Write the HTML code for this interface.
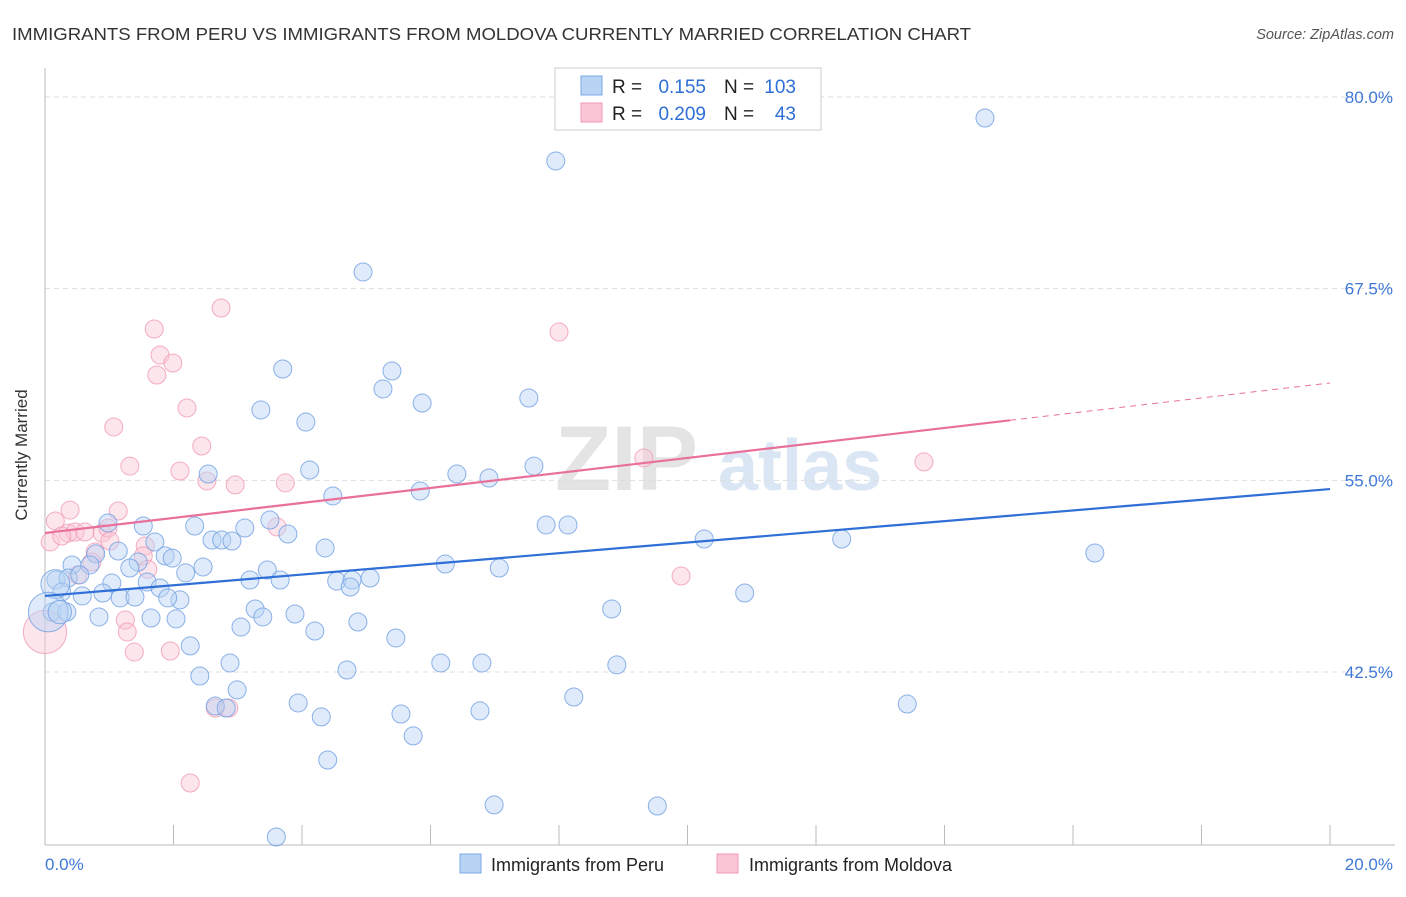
<!DOCTYPE html>
<html><head><meta charset="utf-8"><style>
body{margin:0;background:#fff;font-family:"Liberation Sans",sans-serif}
svg text{font-family:"Liberation Sans",sans-serif}
</style></head><body>
<svg id="chart" width="1406" height="892" viewBox="0 0 1406 892" xmlns="http://www.w3.org/2000/svg">
<text x="12" y="40" font-size="17.5" fill="#333" textLength="959" lengthAdjust="spacingAndGlyphs">IMMIGRANTS FROM PERU VS IMMIGRANTS FROM MOLDOVA CURRENTLY MARRIED CORRELATION CHART</text>
<text x="1394" y="39" font-size="14.5" fill="#555" font-style="italic" text-anchor="end">Source: ZipAtlas.com</text>
<g><text x="555" y="490" font-size="92" fill="#e4e4e4" font-family="Liberation Serif" font-weight="bold">ZIP</text><text x="718" y="490" font-size="72" fill="#dbe6f5" font-weight="bold">atlas</text></g>
<g id="grid"></g>
<g id="axes"></g>
<g id="pts"></g>
<g id="trends"></g>
<text x="27" y="455" font-size="17" fill="#333" text-anchor="middle" transform="rotate(-90 27 455)">Currently Married</text>
<g>
<rect x="555" y="68" width="266" height="62" fill="#fff" stroke="#ccc"/>
<rect x="581" y="76" width="21" height="19" fill="#b9d3f5" stroke="#7aa8e8"/>
<rect x="581" y="103" width="21" height="19" fill="#fac6d5" stroke="#f09ab4"/>
<text x="612" y="93" font-size="19" fill="#222">R =</text>
<text x="706" y="93" font-size="19" fill="#2f6fd6" text-anchor="end">0.155</text>
<text x="724" y="93" font-size="19" fill="#222">N =</text>
<text x="796" y="93" font-size="19" fill="#2f6fd6" text-anchor="end">103</text>
<text x="612" y="120" font-size="19" fill="#222">R =</text>
<text x="706" y="120" font-size="19" fill="#2f6fd6" text-anchor="end">0.209</text>
<text x="724" y="120" font-size="19" fill="#222">N =</text>
<text x="796" y="120" font-size="19" fill="#2f6fd6" text-anchor="end">43</text>
</g>
<g>
<rect x="460" y="854" width="21" height="19" fill="#b9d3f5" stroke="#7aa8e8"/>
<text x="491" y="871" font-size="18" fill="#222">Immigrants from Peru</text>
<rect x="717" y="854" width="21" height="19" fill="#fac6d5" stroke="#f09ab4"/>
<text x="749" y="871" font-size="18" fill="#222">Immigrants from Moldova</text>
</g>
</svg>
<script>
const yTicks=[80,67.5,55,42.5];
const yTickLabels=["80.0%","67.5%","55.0%","42.5%"];
const xTicks=[0,2,4,6,8,10,12,14,16,18,20];
const xEndLabels=["0.0%","20.0%"];
const peruX=[14.63,7.95,4.95,3.70,5.40,5.26,5.87,7.53,3.36,4.06,2.54,4.12,6.41,6.91,7.61,4.48,5.84,3.50,0.98,1.53,2.33,3.11,3.78,7.80,8.14,2.60,2.75,2.91,1.71,10.26,12.40,16.34,1.14,0.79,1.87,1.98,4.36,1.45,1.32,0.42,0.70,2.19,2.46,3.46,3.66,3.19,4.54,4.78,5.06,4.75,6.23,7.07,0.17,0.36,1.04,1.59,1.79,0.90,1.17,1.40,0.58,0.26,2.10,1.91,10.89,8.82,0.11,0.34,3.27,3.39,3.89,2.04,1.65,0.84,3.05,4.87,4.20,5.46,2.26,2.88,4.70,6.16,6.80,8.90,2.41,2.99,8.23,2.65,2.82,3.94,4.30,5.54,6.77,13.42,5.73,4.40,6.99,9.53,3.60,0.16,0.05,0.23,0.54];
const peruY=[78.63,75.83,68.59,62.26,62.13,60.96,60.04,60.37,59.59,58.8,55.41,55.67,55.41,55.15,55.93,53.98,54.3,52.41,52.22,52.02,52.02,51.89,51.5,52.09,52.09,51.11,51.11,51.04,50.98,51.17,51.17,50.26,50.39,50.2,50.07,49.93,50.59,49.67,49.28,49.48,49.48,48.96,49.35,49.15,48.5,48.5,48.43,48.5,48.63,48.04,49.54,49.28,48.5,48.63,48.3,48.37,47.98,47.65,47.33,47.39,47.46,47.72,47.2,47.33,47.65,46.61,46.41,46.41,46.61,46.09,46.28,45.96,46.02,46.09,45.43,45.76,45.17,44.72,44.2,43.09,42.63,43.09,43.09,42.96,42.24,41.33,40.87,40.28,40.15,40.48,39.57,39.76,39.96,40.41,38.33,36.76,33.83,33.76,31.74,48.24,46.41,46.41,48.83];
const peruSize=[1,1,1,1,1,1,1,1,1,1,1,1,1,1,1,1,1,1,1,1,1,1,1,1,1,1,1,1,1,1,1,1,1,1,1,1,1,1,1,1,1,1,1,1,1,1,1,1,1,1,1,1,1,1,1,1,1,1,1,1,1,1,1,1,1,1,1,1,1,1,1,1,1,1,1,1,1,1,1,1,1,1,1,1,1,1,1,1,1,1,1,1,1,1,1,1,1,1,1,1.6,2.2,1.3,1];
const moldX=[2.74,1.70,8.00,1.79,1.99,1.74,2.21,1.07,2.44,1.32,2.10,2.52,2.96,3.74,9.32,13.68,0.39,1.14,0.16,0.36,0.47,0.62,0.89,0.98,3.61,0.08,1.01,0.26,1.56,0.78,0.73,1.53,1.60,0.51,9.90,1.25,1.28,1.39,1.95,2.65,2.86,2.26,0.0];
const moldY=[66.24,64.87,64.67,63.17,62.65,61.87,59.72,58.48,57.24,55.93,55.61,54.96,54.7,54.83,56.46,56.2,53.06,53.0,52.35,51.56,51.63,51.63,51.56,51.89,51.96,50.98,51.04,51.37,50.72,50.33,49.67,50.07,49.2,48.83,48.76,45.89,45.11,43.8,43.87,40.15,40.15,35.26,45.11];
const moldSize=[1,1,1,1,1,1,1,1,1,1,1,1,1,1,1,1,1,1,1,1,1,1,1,1,1,1,1,1,1,1,1,1,1,1,1,1,1,1,1,1,1,1,2.4];
const peruTrend=[47.46,54.43];
const moldTrend=[51.57,61.35];
const moldSolidEnd=15.02;
const NS="http://www.w3.org/2000/svg";
const xs=v=>45+v/20*1285;
const ys=v=>97+(80-v)*15.333;
function mk(tag,attrs,parent){const e=document.createElementNS(NS,tag);for(const k in attrs)e.setAttribute(k,attrs[k]);parent.appendChild(e);return e;}
const grid=document.getElementById('grid'),axes=document.getElementById('axes'),pts=document.getElementById('pts'),tr=document.getElementById('trends');
yTicks.forEach((t,i)=>{
 const l=mk('line',{x1:45,x2:1395,y1:ys(t),y2:ys(t),stroke:'#ddd','stroke-dasharray':'5,4'},grid);
 
 
 const tx=mk('text',{x:1393,y:ys(t)+6,'font-size':17,fill:'#3f78d6','text-anchor':'end'},axes);
 tx.textContent=yTickLabels[i];
 
 
});
const ax=mk('line',{x1:45,x2:45,y1:68,y2:845,stroke:'#bbb'},axes);


const bx=mk('line',{x1:45,x2:1395,y1:845,y2:845,stroke:'#bbb'},axes);


xTicks.forEach(t=>{
 const l=mk('line',{x1:xs(t),x2:xs(t),y1:825,y2:845,stroke:'#bbb'},axes);
 
 
});
[[0,'start',45],[20,'end',1393]].forEach((d,i)=>{
 const tx=mk('text',{x:d[2],y:870,'font-size':17,fill:'#3f78d6','text-anchor':d[1]},axes);
 tx.textContent=xEndLabels[i];
 
 
});
function drawPts(X,Y,S,fill,stroke,name){
 X.forEach((x,i)=>{
  const c=mk('circle',{cx:xs(x),cy:ys(Y[i]),r:9*S[i],fill:fill,'fill-opacity':0.45,stroke:stroke,'stroke-opacity':0.8,'stroke-width':1},pts);
  
  
 });
}
drawPts(moldX,moldY,moldSize,'#fac6d5','#f09ab4','moldova-point');
drawPts(peruX,peruY,peruSize,'#b9d3f5','#6f9fe2','peru-point');
const pl=mk('line',{x1:xs(0),y1:ys(peruTrend[0]),x2:xs(20),y2:ys(peruTrend[1]),stroke:'#2f6fd6','stroke-width':2.2},tr);


const my=v=>moldTrend[0]+(moldTrend[1]-moldTrend[0])*v/20;
const ml=mk('line',{x1:xs(0),y1:ys(my(0)),x2:xs(moldSolidEnd),y2:ys(my(moldSolidEnd)),stroke:'#e8709a','stroke-width':2.2},tr);


const md=mk('line',{x1:xs(moldSolidEnd),y1:ys(my(moldSolidEnd)),x2:xs(20),y2:ys(my(20)),stroke:'#e8709a','stroke-width':1,'stroke-dasharray':'6,5'},tr);


</script>
</body></html>
